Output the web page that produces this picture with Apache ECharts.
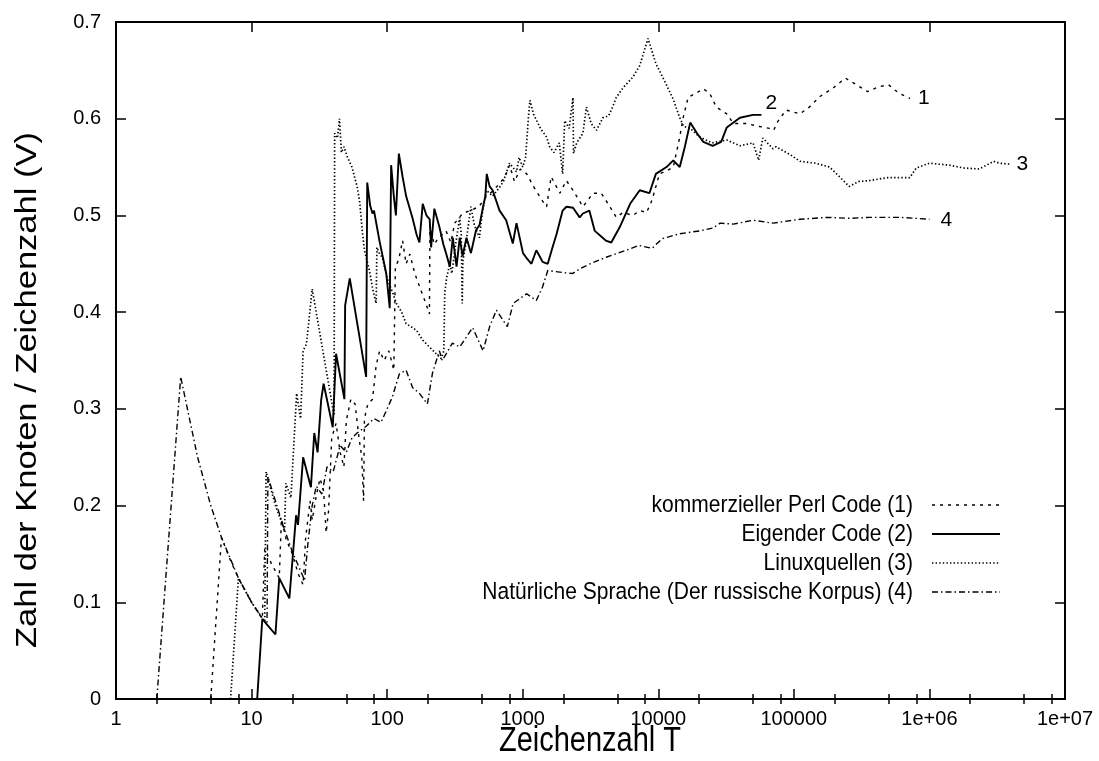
<!DOCTYPE html>
<html>
<head>
<meta charset="utf-8">
<script src="https://cdn.jsdelivr.net/npm/echarts@6/dist/echarts.min.js"></script>
<style>
  html, body { margin: 0; padding: 0; background: #fff; }
  #chart { width: 1099px; height: 761px; }
</style>
</head>
<body>
<div id="chart"></div>
<script>
// V = Zahl der Knoten / Zeichenzahl, gemessen über die Zeichenzahl T (log. Achse)

// kommerzieller Perl Code (1)
const perlCode = [
  [5,0],[6,0.167],[7,0.143],[8,0.125],[10,0.1],[12,0.083],[12.5,0.155],[14,0.14],[16,0.125],
  [16.6,0.186],[18,0.165],[20,0.15],[22,0.13],[24,0.118],[25,0.165],[27,0.205],[28,0.185],
  [30,0.21],[32,0.228],[34,0.215],[35.5,0.172],[37,0.195],[39,0.27],[42,0.285],[45,0.255],
  [48,0.24],[50,0.288],[54,0.31],[58,0.305],[62,0.27],[65,0.25],[67,0.205],[68,0.29],[72,0.305],
  [78,0.31],[83,0.345],[88,0.36],[95,0.35],[103,0.36],[112,0.34],[115,0.446],[122,0.455],
  [130,0.474],[138,0.45],[147,0.46],[160,0.44],[178,0.422],[192,0.41],[205,0.398],[207,0.49],
  [222,0.47],[240,0.477],[272,0.484],[295,0.472],[315,0.492],[360,0.502],[410,0.505],
  [475,0.509],[540,0.52],[600,0.525],[675,0.533],[740,0.54],[800,0.552],[870,0.535],
  [960,0.548],[1070,0.543],[1200,0.53],[1400,0.515],[1500,0.509],[1620,0.54],[1880,0.523],
  [2100,0.536],[2350,0.526],[2780,0.509],[3300,0.523],[3800,0.523],[4400,0.509],[4900,0.498],
  [5500,0.503],[6500,0.5],[7300,0.505],[8200,0.503],[9000,0.516],[10200,0.543],[11500,0.546],
  [12900,0.55],[14400,0.581],[15200,0.6],[16600,0.622],[19300,0.627],[21500,0.631],
  [24000,0.626],[26800,0.612],[32000,0.605],[35800,0.595],[44500,0.595],[55900,0.592],
  [66000,0.59],[71000,0.588],[76000,0.597],[87600,0.609],[111000,0.605],[130000,0.612],
  [156000,0.623],[196000,0.632],[240000,0.642],[290000,0.635],[350000,0.628],[420000,0.633],
  [500000,0.635],[600000,0.626],[720000,0.621]
];

// Eigender Code (2)
const ownCode = [
  [11,0],[12,0.083],[13,0.077],[15,0.0667],[16,0.125],[19,0.104],[21.3,0.19],[22,0.18],
  [24,0.25],[27.4,0.219],[29,0.275],[30.7,0.255],[32.6,0.309],[34,0.326],[39.7,0.281],
  [42,0.357],[48.4,0.31],[49,0.407],[50,0.405],[53,0.435],[70,0.333],[71.3,0.534],[75,0.51],
  [78,0.502],[80,0.505],[87.7,0.474],[98.5,0.44],[104.5,0.404],[107,0.552],[112,0.52],
  [116,0.5],[122,0.564],[130,0.54],[138,0.52],[154,0.497],[165,0.48],[173,0.472],[183,0.512],
  [195,0.5],[206,0.496],[211,0.467],[223,0.507],[243,0.488],[260,0.47],[272,0.461],
  [290,0.447],[305,0.477],[325,0.447],[343,0.477],[360,0.458],[385,0.477],[415,0.461],
  [453,0.485],[480,0.49],[510,0.509],[530,0.52],[543,0.543],[570,0.53],[600,0.526],[675,0.505],
  [755,0.495],[845,0.471],[900,0.492],[1005,0.461],[1080,0.455],[1160,0.45],[1260,0.464],
  [1330,0.458],[1400,0.452],[1530,0.45],[1660,0.467],[1780,0.481],[1970,0.505],[2100,0.509],
  [2350,0.508],[2630,0.498],[2780,0.502],[3100,0.505],[3400,0.484],[4100,0.474],[4500,0.472],
  [5200,0.488],[6200,0.512],[7300,0.526],[8600,0.523],[9600,0.543],[11500,0.55],[12900,0.557],
  [14400,0.55],[15700,0.571],[17200,0.596],[19300,0.585],[21500,0.576],[25200,0.572],
  [29100,0.576],[32000,0.591],[40000,0.601],[50000,0.604],[57700,0.604]
];

// Linuxquellen (3)
const linuxSources = [
  [7,0],[8,0.125],[10,0.1],[12.5,0.08],[12.8,0.235],[15,0.2],[17.5,0.175],[17.9,0.223],
  [19.5,0.208],[21.5,0.316],[22.5,0.298],[23,0.29],[24,0.36],[25.4,0.367],[28,0.424],
  [40.6,0.293],[41,0.585],[43,0.58],[44.5,0.6],[46,0.565],[48,0.571],[51,0.56],[55,0.55],
  [60,0.53],[62.6,0.515],[66,0.48],[68,0.464],[74,0.443],[78,0.425],[83,0.409],[84,0.467],
  [88,0.46],[92,0.457],[100,0.435],[110,0.42],[117,0.409],[128,0.4],[138,0.388],[150,0.385],
  [165,0.381],[183,0.371],[205,0.364],[230,0.357],[250,0.352],[262,0.36],[266,0.42],
  [275,0.436],[290,0.45],[300,0.44],[320,0.47],[343,0.498],[352,0.48],[358,0.409],[362,0.453],
  [380,0.47],[415,0.509],[440,0.49],[480,0.477],[500,0.5],[540,0.526],[600,0.52],[675,0.529],
  [720,0.535],[800,0.554],[900,0.545],[940,0.56],[1000,0.55],[1050,0.56],[1100,0.6],
  [1130,0.619],[1200,0.605],[1350,0.59],[1500,0.581],[1580,0.571],[1700,0.565],[1860,0.575],
  [1970,0.543],[2040,0.598],[2200,0.59],[2350,0.622],[2370,0.564],[2500,0.575],[2780,0.585],
  [2950,0.612],[3200,0.595],[3500,0.588],[3900,0.601],[4300,0.603],[4600,0.612],[4900,0.622],
  [5500,0.632],[6200,0.64],[6500,0.643],[7300,0.655],[8400,0.683],[9600,0.657],[11400,0.636],
  [12900,0.62],[14300,0.602],[15400,0.592],[17200,0.59],[20200,0.581],[25000,0.575],
  [32000,0.578],[40000,0.572],[50000,0.575],[55000,0.557],[59000,0.58],[70000,0.569],
  [74000,0.571],[93400,0.563],[111000,0.556],[145000,0.554],[183000,0.55],[217000,0.54],
  [256000,0.53],[300000,0.535],[360000,0.536],[490000,0.539],[715000,0.539],[800000,0.549],
  [1000000,0.554],[1400000,0.552],[1800000,0.549],[2340000,0.548],[2970000,0.556],
  [3300000,0.554],[3900000,0.553]
];

// Natürliche Sprache (Der russische Korpus) (4)
const russianCorpus = [
  [2,0],[3,0.333],[4,0.25],[5,0.2],[6,0.167],[8,0.125],[10,0.1],[12,0.083],[13,0.077],
  [13.2,0.23],[17,0.18],[20,0.152],[24.6,0.123],[26,0.16],[28,0.2],[30,0.22],[33,0.212],
  [36,0.24],[40,0.235],[45,0.262],[50,0.255],[55,0.27],[60,0.275],[70,0.282],[80,0.29],
  [90,0.286],[100,0.3],[109,0.312],[123,0.336],[138,0.34],[154,0.322],[173,0.316],[198,0.305],
  [216,0.337],[243,0.36],[255,0.35],[303,0.368],[343,0.364],[427,0.384],[510,0.36],[570,0.385],
  [640,0.402],[770,0.385],[850,0.409],[1070,0.419],[1260,0.412],[1400,0.426],[1530,0.443],
  [1970,0.441],[2340,0.44],[2650,0.445],[3140,0.45],[4170,0.457],[5800,0.464],[7200,0.469],
  [9000,0.466],[10700,0.476],[14300,0.481],[20200,0.484],[25300,0.487],[28600,0.492],
  [35800,0.491],[50000,0.495],[70000,0.492],[111000,0.496],[176000,0.498],[260000,0.497],
  [360000,0.498],[600000,0.498],[800000,0.497],[1000000,0.496]
];

const seriesNames = [
  'kommerzieller Perl Code (1)',
  'Eigender Code (2)',
  'Linuxquellen (3)',
  'Natürliche Sprache (Der russische Korpus) (4)'
];
const seriesTags = ['1', '2', '3', '4'];

const xTickLabels = ['1', '10', '100', '1000', '10000', '100000', '1e+06', '1e+07'];
const xMinorTicks = [
  2, 5, 8, 20, 50, 80, 200, 500, 800, 2000, 5000, 8000,
  20000, 50000, 80000, 200000, 500000, 800000, 2000000, 5000000, 8000000
];

const FONT = '"Liberation Sans", Arial, Helvetica, sans-serif';
const INK = '#000';

// Strichmuster der vier Kurven
const lineStyles = [
  { color: INK, width: 1.4, type: [3, 5] },
  { color: INK, width: 1.9, type: 'solid' },
  { color: INK, width: 1.7, type: [1.4, 2.2] },
  { color: INK, width: 1.4, type: [6, 3, 1.5, 3] }
];
const seriesData = [perlCode, ownCode, linuxSources, russianCorpus];
const endLabelPlacement = [
  { distance: 8, offset: [0, 0] },
  { distance: 4, offset: [0, -12] },
  { distance: 7, offset: [0, 0] },
  { distance: 11, offset: [0, 1] }
];

const chart = echarts.init(document.getElementById('chart'), null, { renderer: 'canvas' });

const baseX = {
  type: 'log',
  logBase: 10,
  min: 1,
  max: 1e7,
  gridIndex: 0,
  splitLine: { show: false },
  axisLine: { show: true, onZero: false, lineStyle: { color: INK, width: 2 } }
};

const option = {
  animation: false,
  backgroundColor: '#fff',
  grid: { left: 116, right: 34, top: 22, bottom: 62, containLabel: false },
  xAxis: [
    Object.assign({}, baseX, {
      position: 'bottom',
      axisTick: { show: true, inside: true, length: 10, lineStyle: { color: INK, width: 1.5 } },
      axisLabel: {
        show: true, color: INK, fontSize: 20, fontFamily: FONT, margin: 10,
        formatter: function (v) {
          return xTickLabels[Math.round(Math.log10(v))];
        }
      }
    }),
    Object.assign({}, baseX, {
      position: 'bottom',
      axisLine: { show: false },
      axisTick: { show: true, inside: true, length: 5, customValues: xMinorTicks,
        lineStyle: { color: INK, width: 1.5 } },
      axisLabel: { show: false }
    }),
    Object.assign({}, baseX, {
      position: 'top',
      axisTick: { show: true, inside: true, length: 10, lineStyle: { color: INK, width: 1.5 } },
      axisLabel: { show: false }
    }),
    Object.assign({}, baseX, {
      position: 'top',
      axisLine: { show: false },
      axisTick: { show: true, inside: true, length: 5, customValues: xMinorTicks,
        lineStyle: { color: INK, width: 1.5 } },
      axisLabel: { show: false }
    })
  ],
  yAxis: [
    {
      type: 'value', min: 0, max: 0.7, interval: 0.1, position: 'left',
      splitLine: { show: false },
      axisLine: { show: true, onZero: false, lineStyle: { color: INK, width: 2 } },
      axisTick: { show: true, inside: true, length: 10, lineStyle: { color: INK, width: 1.5 } },
      axisLabel: { color: INK, fontSize: 20, fontFamily: FONT, margin: 15 }
    },
    {
      type: 'value', min: 0, max: 0.7, interval: 0.1, position: 'right',
      splitLine: { show: false },
      axisLine: { show: true, onZero: false, lineStyle: { color: INK, width: 2 } },
      axisTick: { show: true, inside: true, length: 10, lineStyle: { color: INK, width: 1.5 } },
      axisLabel: { show: false }
    }
  ],
  series: seriesData.map(function (data, i) {
    return {
      name: seriesNames[i],
      type: 'line',
      xAxisIndex: 0,
      yAxisIndex: 0,
      data: data,
      showSymbol: false,
      symbol: 'none',
      smooth: false,
      clip: true,
      lineStyle: lineStyles[i],
      emphasis: { disabled: true },
      endLabel: {
        show: true,
        formatter: seriesTags[i],
        color: INK,
        fontSize: 21,
        fontFamily: FONT,
        distance: endLabelPlacement[i].distance,
        offset: endLabelPlacement[i].offset
      },
      z: 10 - i
    };
  })
};

chart.setOption(option);

// Achsentitel und Legende (Text rechtsbündig, Linienmuster rechts daneben)
const legendRight = 913;
const legendTop = 505;
const legendStep = 29;
const graphics = [];

graphics.push({
  type: 'text',
  x: 590, y: 741,
  scaleY: 1.2,
  style: {
    text: 'Zeichenzahl T', fill: INK, fontSize: 29, fontFamily: FONT,
    align: 'center', verticalAlign: 'middle'
  }
});
graphics.push({
  type: 'text',
  x: 28, y: 390,
  rotation: Math.PI / 2,
  scaleX: 1.19,
  style: {
    text: 'Zahl der Knoten / Zeichenzahl (V)', fill: INK, fontSize: 29, fontFamily: FONT,
    align: 'center', verticalAlign: 'middle'
  }
});

seriesNames.forEach(function (name, i) {
  const y = legendTop + i * legendStep;
  graphics.push({
    type: 'text',
    x: legendRight, y: y,
    scaleY: 1.15,
    style: {
      text: name, fill: INK, fontSize: 21, fontFamily: FONT,
      align: 'right', verticalAlign: 'middle'
    }
  });
  const ls = lineStyles[i];
  graphics.push({
    type: 'line',
    shape: { x1: 932, y1: y, x2: 1000, y2: y },
    style: {
      stroke: ls.color,
      lineWidth: ls.width,
      lineDash: Array.isArray(ls.type) ? ls.type : null
    }
  });
});

chart.setOption({ graphic: graphics });
</script>
</body>
</html>
